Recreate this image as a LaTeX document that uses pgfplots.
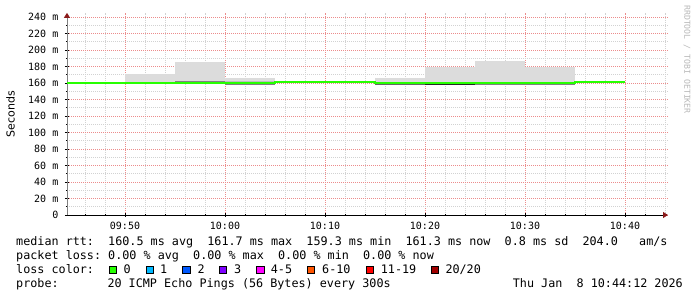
\documentclass[border=0pt]{standalone}
\usepackage{fontspec}
\setmainfont{DejaVu Sans}
\setmonofont{DejaVu Sans Mono}
\usepackage{pgfplots}
\pgfplotsset{compat=1.18}
\usetikzlibrary{arrows.meta}
\definecolor{lcA}{HTML}{26FF00}
\definecolor{lcB}{HTML}{00B8FF}
\definecolor{lcC}{HTML}{0059FF}
\definecolor{lcD}{HTML}{7E00FF}
\definecolor{lcE}{HTML}{FF00FF}
\definecolor{lcF}{HTML}{FF5500}
\definecolor{lcG}{HTML}{FF0000}
\definecolor{lcH}{HTML}{A10000}
\definecolor{mgrid}{HTML}{EC8C8C}
\definecolor{sgrid}{HTML}{D2D2D2}
\definecolor{smoke}{HTML}{DCDCDC}
\definecolor{smokemid}{HTML}{BDBDBD}
\definecolor{arrowred}{HTML}{8B1A1A}
\newcommand{\mono}{\ttfamily\fontsize{11.76}{14}\selectfont}
\begin{document}
\frenchspacing
\begin{tikzpicture}
\path[use as bounding box] (0,0) rectangle (697pt,297pt);
\begin{axis}[
  at={(67pt,82pt)}, anchor=south west,
  scale only axis, width=601pt, height=202.125pt,
  xmin=44.2, xmax=104.3, ymin=0, ymax=245,
  axis x line=bottom, axis y line=left,
  x axis line style={black, line width=0.8pt, -{Triangle[length=5pt,width=6pt,color=arrowred]}},
  y axis line style={gray, line width=0.8pt, -{Triangle[length=5pt,width=6pt,color=arrowred]}},
  xtick={50,60,70,80,90,100},
  xticklabels={09:50,10:00,10:10,10:20,10:30,10:40},
  minor xtick={46,48,52,54,56,58,62,64,66,68,72,74,76,78,82,84,86,88,92,94,96,98,102,104},
  ytick={0,20,40,60,80,100,120,140,160,180,200,220,240},
  yticklabels={0,20 m,40 m,60 m,80 m,100 m,120 m,140 m,160 m,180 m,200 m,220 m,240 m},
  minor ytick={10,30,50,70,90,110,130,150,170,190,210,230},
  grid=both,
  major grid style={mgrid, dash pattern=on 1pt off 1pt, line width=0.6pt},
  minor grid style={sgrid, dash pattern=on 1pt off 1pt, line width=0.6pt},
  tick align=center, major tick length=4pt, minor tick length=2pt,
  tick style={black, line width=0.6pt},
  ticklabel style={font=\ttfamily\fontsize{10}{12}\selectfont, inner sep=0pt},
  yticklabel style={xshift=-6.5pt},
  xticklabel style={yshift=-5pt},
]
% smoke areas
\addplot[fill=smoke, draw=none] coordinates {(50,159.5) (55,159.5) (55,171.0) (50,171.0)} --cycle;
\addplot[fill=smoke, draw=none] coordinates {(55,159.8) (60,159.8) (60,185.5) (55,185.5)} --cycle;
\addplot[fill=smoke, draw=none] coordinates {(60,157.8) (65,157.8) (65,165.6) (60,165.6)} --cycle;
\addplot[fill=smokemid, draw=none] coordinates {(60,158.0) (65,158.0) (65,163.0) (60,163.0)} --cycle;
\addplot[fill=smoke, draw=none] coordinates {(75,158.5) (80,158.5) (80,166.0) (75,166.0)} --cycle;
\addplot[fill=smoke, draw=none] coordinates {(80,158.5) (85,158.5) (85,179.0) (80,179.0)} --cycle;
\addplot[fill=smoke, draw=none] coordinates {(85,158.5) (90,158.5) (90,187.0) (85,187.0)} --cycle;
\addplot[fill=smoke, draw=none] coordinates {(90,158.5) (95,158.5) (95,179.0) (90,179.0)} --cycle;
% darker smoke edges
\addplot[draw=gray, line width=1.2pt] coordinates {(55,161.3) (60,161.3)};
\addplot[draw=gray, line width=1.2pt] coordinates {(60,158.2) (65,158.2)};
\addplot[draw=black!60, line width=1.2pt] coordinates {(75,158.6) (80,158.6)};
\addplot[draw=black!85, line width=1.2pt] coordinates {(80,158.6) (85,158.6)};
\addplot[draw=black!50, line width=1.2pt] coordinates {(85,158.6) (90,158.6)};
\addplot[draw=black!50, line width=1.2pt] coordinates {(90,158.6) (95,158.6)};
% median rtt
\addplot[const plot, draw=lcA, line width=2pt] coordinates {
 (44.2,159.6) (50,159.6) (55,159.6) (60,159.6) (65,161.5) (70,161.5)
 (75,160.5) (80,160.4) (85,160.4) (90,160.4) (95,161.3) (100,161.3)};
\end{axis}
% y label
\node[rotate=90, font=\fontsize{11}{13}\selectfont, inner sep=0pt] at (10.5pt,183pt) {Seconds};
% watermark
\node[rotate=-90, anchor=west, font=\ttfamily\fontsize{8.2}{10}\selectfont, text=black!28, inner sep=0pt] at (687pt,292pt) {RRDTOOL / TOBI OETIKER};
% legend
\node[anchor=base west, inner sep=0pt, font=\mono] at (16pt,51.5pt) {median~rtt:~~160.5~ms~avg~~161.7~ms~max~~159.3~ms~min~~161.3~ms~now~~0.8~ms~sd~~204.0~~~am/s};
\node[anchor=base west, inner sep=0pt, font=\mono] at (16pt,37.5pt) {packet~loss:~0.00~\%~avg~~0.00~\%~max~~0.00~\%~min~~0.00~\%~now};
\node[anchor=base west, inner sep=0pt, font=\mono] at (16pt,23.5pt) {loss~color:};
\foreach \bx/\col/\lx/\lab in {109.3/lcA/123.3/0, 146/lcB/160/1, 182.7/lcC/197.3/2, 219.3/lcD/234/3, 256.7/lcE/270.7/4-5, 307.3/lcF/322/6-10, 366/lcG/380.7/11-19, 431.3/lcH/445.3/20\slash 20}{
  \filldraw[fill=\col, draw=black, line width=0.8pt] (\bx pt,23.3pt) rectangle ++(7.4pt,7.4pt);
  \node[anchor=base west, inner sep=0pt, font=\mono] at (\lx pt,23.5pt) {\lab};
}
\node[anchor=base west, inner sep=0pt, font=\mono] at (16pt,9.5pt) {probe:};
\node[anchor=base west, inner sep=0pt, font=\mono] at (107.3pt,9.5pt) {20~ICMP~Echo~Pings~(56~Bytes)~every~300s};
\node[anchor=base west, inner sep=0pt, font=\mono] at (512.7pt,9.5pt) {Thu~Jan~~8~10:44:12~2026};
\end{tikzpicture}
\end{document}
